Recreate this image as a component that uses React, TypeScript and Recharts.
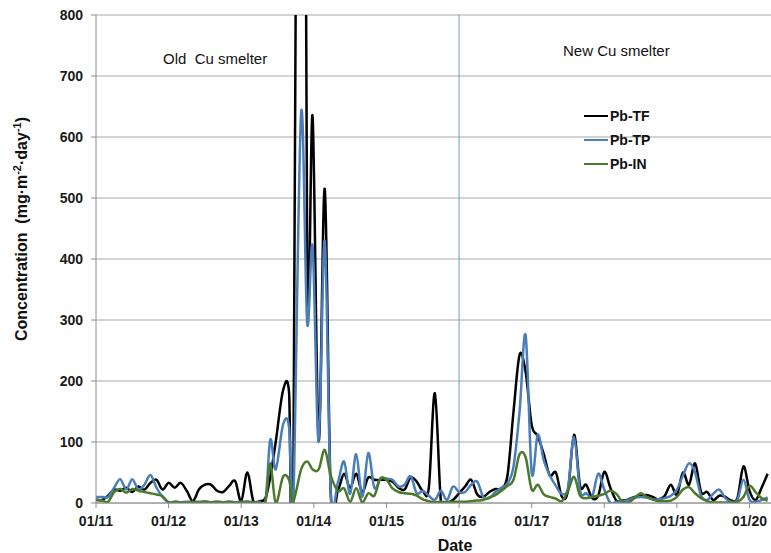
import React from "react";
import {
  LineChart,
  Line,
  XAxis,
  YAxis,
  CartesianGrid,
  ReferenceLine,
  Legend,
} from "recharts";

// Sampling dates, in months since January 2011
const MONTHS = [
  0, 1, 2, 3, 4, 5, 6, 7, 8, 9, 10, 11, 12, 13, 14, 15, 16, 17, 18, 19, 20, 21, 22, 23, 24, 25, 26, 27, 28,
  28.8, 29.7, 30.9, 31.9, 32.6, 33.9, 34.9, 35.8, 36.8, 37.8, 38.8,
  40, 41, 42, 43, 44, 45, 46, 47, 48, 49, 50, 51, 52, 53, 54, 55, 56, 57, 58, 59,
  60, 61, 62, 63, 64, 65, 66, 67, 68, 69, 70, 71, 72, 73, 74, 75, 76, 77, 78, 79,
  80, 81, 82, 83, 84, 85, 86, 87, 88, 89, 90, 91, 92, 93, 94, 95, 96, 97, 98, 99,
  100, 101, 102, 103, 104, 105, 106, 107, 108, 109, 110, 111,
];

const PB_TF = [
  5, 5, 12, 22, 20, 25, 18, 27, 22, 33, 38, 22, 33, 25, 33, 20, 3, 22, 30, 30, 20, 18, 28, 36, 3, 50, 3, 3, 8,
  43, 100, 184, 182, 0, 2400, 400, 633, 103, 515, 15,
  22, 48, 25, 48, 18, 42, 38, 38, 38, 35, 25, 22, 42, 35, 20, 25, 180, 3, 1, 5,
  16, 27, 38, 14, 10, 18, 23, 24, 45, 150, 243, 215, 128, 110, 80, 45, 50, 10, 20, 112,
  28, 30, 8, 12, 51, 25, 4, 4, 6, 10, 12, 13, 10, 6, 12, 30, 14, 50, 30, 65,
  18, 18, 5, 12, 10, 4, 8, 60, 20, 5, 25, 48,
];

const PB_TP = [
  10, 10, 10, 25, 39, 22, 39, 22, 30, 46, 25, 10, 1, 2, 1, 2, 1, 2, 1, 1, 2, 1, 2, 1, 2, 2, 1, 2, 2,
  104, 55, 128, 125, 0, 640, 295, 420, 100, 430, 15,
  35, 68, 15, 80, 10, 82, 25, 40, 40, 38, 27, 30, 44, 16, 20, 12, 5, 20, 5, 27,
  18, 18, 30, 35, 10, 8, 18, 25, 32, 60, 150, 275, 50, 112, 70, 45, 28, 15, 25, 108,
  20, 16, 11, 48, 22, 0, 2, 3, 5, 9, 10, 9, 6, 6, 8, 12, 22, 45, 65, 50,
  12, 5, 15, 22, 8, 2, 5, 38, 5, 2, 5, 9,
];

const PB_IN = [
  6, 4, 2, 18, 23, 17, 23, 20, 18, 16, 14, 11, 1, 2, 1, 1, 2, 1, 3, 1, 2, 1, 2, 1, 1, 2, 1, 1, 2,
  65, 0, 43, 38, 3, 55, 68, 55, 55, 87, 45,
  20, 24, 2, 24, 1, 16, 12, 40, 38, 24, 18, 16, 15, 12, 6, 3, 1, 2, 1, 2,
  2, 2, 3, 4, 5, 9, 13, 20, 28, 38, 80, 75, 22, 30, 14, 10, 7, 3, 20, 43,
  12, 8, 10, 12, 15, 20, 15, 2, 1, 8, 16, 10, 6, 3, 3, 4, 10, 22, 26, 16,
  8, 3, 1, 1, 1, 1, 2, 10, 28, 18, 8, 4,
];

const YEAR_TICKS = [0, 12, 24, 36, 48, 60, 72, 84, 96, 108];
const YEAR_LABELS = ["01/11", "01/12", "01/13", "01/14", "01/15", "01/16", "01/17", "01/18", "01/19", "01/20"];
const Y_TICKS = [0, 100, 200, 300, 400, 500, 600, 700, 800];
const SMELTER_CHANGE = 60;

const SERIES = [
  { key: "tf", name: "Pb-TF", color: "#000000" },
  { key: "tp", name: "Pb-TP", color: "#4a7ebb" },
  { key: "in", name: "Pb-IN", color: "#4b7a2b" },
];

const data = MONTHS.map((t, i) => ({ t, tf: PB_TF[i], tp: PB_TP[i], in: PB_IN[i] }));

// Excel-like smoothed line (Catmull-Rom through the points)
function excelSmooth(context: any) {
  let pts: number[][] = [];
  return {
    areaStart() {},
    areaEnd() {},
    lineStart() {
      pts = [];
    },
    point(x: number, y: number) {
      pts.push([+x, +y]);
    },
    lineEnd() {
      const n = pts.length;
      if (!n) return;
      context.moveTo(pts[0][0], pts[0][1]);
      for (let i = 0; i < n - 1; i++) {
        const p0 = pts[i - 1] || pts[i];
        const p1 = pts[i];
        const p2 = pts[i + 1];
        const p3 = pts[i + 2] || p2;
        context.bezierCurveTo(
          p1[0] + (p2[0] - p0[0]) / 6,
          p1[1] + (p2[1] - p0[1]) / 6,
          p2[0] - (p3[0] - p1[0]) / 6,
          p2[1] - (p3[1] - p1[1]) / 6,
          p2[0],
          p2[1]
        );
      }
    },
  };
}

const FONT = "'Liberation Sans', Arial, sans-serif";

const LegendContent = () => (
  <div style={{ fontFamily: FONT }}>
    {SERIES.map((s) => (
      <div key={s.key} style={{ display: "flex", alignItems: "center", height: 24 }}>
        <div style={{ width: 24, height: 2, background: s.color }} />
        <span style={{ marginLeft: 2, fontWeight: "bold", fontSize: 14, color: "#111" }}>{s.name}</span>
      </div>
    ))}
  </div>
);

export default function App() {
  return (
    <div style={{ position: "absolute", left: 0, top: 0, width: 771, height: 553, fontFamily: FONT, background: "#fff" }}>
      <LineChart width={771} height={553} data={data} margin={{ top: 15, right: 0, bottom: 0, left: 0 }}>
        <CartesianGrid vertical={false} stroke="#a8a8a8" strokeWidth={1} />
        <XAxis
          dataKey="t"
          type="number"
          domain={[0, 111.55]}
          ticks={YEAR_TICKS}
          tickFormatter={(v: number) => YEAR_LABELS[YEAR_TICKS.indexOf(v)]}
          height={50}
          tickSize={5}
          tickMargin={8}
          axisLine={{ stroke: "#8c8c8c" }}
          tickLine={{ stroke: "#8c8c8c" }}
          tick={{ fontSize: 14, fontWeight: "bold", fill: "#1a1a1a" }}
          allowDataOverflow
        />
        <YAxis
          type="number"
          domain={[0, 800]}
          ticks={Y_TICKS}
          width={96}
          tickSize={5}
          tickMargin={8}
          axisLine={{ stroke: "#8c8c8c" }}
          tickLine={{ stroke: "#8c8c8c" }}
          tick={{ fontSize: 14, fontWeight: "bold", fill: "#1a1a1a" }}
          allowDataOverflow
        />
        <ReferenceLine x={SMELTER_CHANGE} stroke="#6e98cf" strokeWidth={1} />
        {SERIES.map((s) => (
          <Line
            key={s.key}
            dataKey={s.key}
            name={s.name}
            stroke={s.color}
            strokeWidth={2.5}
            dot={false}
            type={excelSmooth as any}
            isAnimationActive={false}
          />
        ))}
        <Legend
          layout="vertical"
          align="center"
          verticalAlign="middle"
          content={LegendContent}
          wrapperStyle={{ left: 584, top: 104, width: 90, height: 72 }}
        />
      </LineChart>
      <svg
        width={771}
        height={553}
        style={{ position: "absolute", left: 0, top: 0, pointerEvents: "none" }}
      >
        <text x={163} y={64} fontSize={15} fill="#111" style={{ whiteSpace: "pre" }}>
          Old  Cu smelter
        </text>
        <text x={563} y={56} fontSize={15} fill="#111">
          New Cu smelter
        </text>
        <text x={455} y={551} fontSize={16} fontWeight="bold" fill="#111" textAnchor="middle">
          Date
        </text>
        <text
          transform="translate(27, 229) rotate(-90)"
          fontSize={16}
          fontWeight="bold"
          fill="#111"
          textAnchor="middle"
          style={{ whiteSpace: "pre" }}
        >
          Concentration  (mg·m<tspan dy={-6} fontSize={11}>-2</tspan>
          <tspan dy={6}>·day</tspan>
          <tspan dy={-6} fontSize={11}>-1</tspan>
          <tspan dy={6}>)</tspan>
        </text>
      </svg>
    </div>
  );
}
